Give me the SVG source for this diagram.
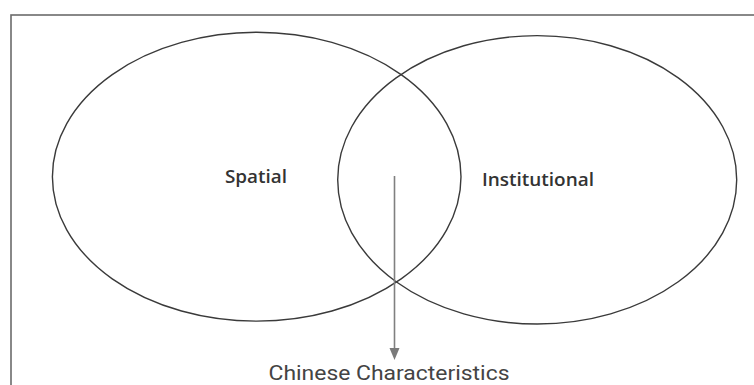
<svg xmlns="http://www.w3.org/2000/svg" width="754" height="385" viewBox="0 0 754 385">
<style>
  .frame{fill:none;stroke:#6b6b6b;stroke-width:1.6}
  .set{fill:none;stroke:#3a3a3a;stroke-width:1.4}
  .lbl{font-family:"Open Sans","Noto Sans",sans-serif;font-weight:600;font-size:18px;fill:#333}
  .cap{font-family:Roboto,"Liberation Sans",sans-serif;font-size:21px;fill:#444}
  .arrow{stroke:#808080;stroke-width:1.6;fill:none}
</style>
<rect x="0" y="0" width="754" height="385" fill="#ffffff"/>
<rect class="frame" x="11" y="15" width="760" height="400"/>
<g id="spatial">
  <ellipse class="set" cx="256.7" cy="176.7" rx="204.3" ry="144.4"/>
  <text class="lbl" x="256" y="183" text-anchor="middle" textLength="62" lengthAdjust="spacingAndGlyphs">Spatial</text>
</g>
<g id="institutional">
  <ellipse class="set" cx="537.2" cy="179.8" rx="199.5" ry="144.2"/>
  <text class="lbl" x="538" y="186" text-anchor="middle" textLength="112" lengthAdjust="spacingAndGlyphs">Institutional</text>
</g>
<g id="chinese">
  <text class="cap" x="389" y="380" text-anchor="middle" textLength="241" lengthAdjust="spacingAndGlyphs">Chinese Characteristics</text>
</g>
<g id="connectors">
  <line class="arrow" x1="394.5" y1="176" x2="394.5" y2="348"/>
  <path d="M389.5,348 L399.5,348 L394.5,360 Z" fill="#7a7a7a"/>
</g>
</svg>
